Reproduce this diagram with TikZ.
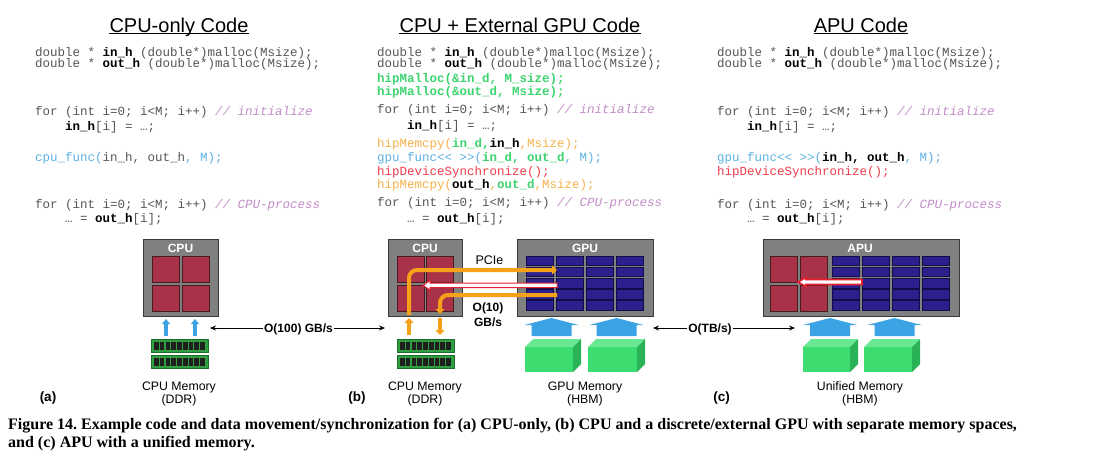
\documentclass[tikz,border=0pt]{standalone}
\usepackage{fontspec}
\setmainfont{Liberation Sans}
\newfontfamily\codefont{Liberation Mono}
\newfontfamily\capfont{Liberation Serif}
\usetikzlibrary{arrows.meta}
\definecolor{codegray}{HTML}{555555}
\definecolor{cmt}{HTML}{C28CC8}
\definecolor{cblue}{HTML}{5BB1E3}
\definecolor{cgreen}{HTML}{3DD46F}
\definecolor{corange}{HTML}{F6B24A}
\definecolor{cred}{HTML}{EF3B4B}
\definecolor{boxgray}{HTML}{808080}
\definecolor{boxborder}{HTML}{3A3A3A}
\definecolor{corered}{HTML}{A83349}
\definecolor{coreborder}{HTML}{4A1A22}
\definecolor{cellblue}{HTML}{2C1F8E}
\definecolor{cellborder}{HTML}{120C48}
\definecolor{blueA}{HTML}{3BA3E3}
\definecolor{orangeA}{HTML}{F7A11A}
\definecolor{redA}{HTML}{E8202E}
\definecolor{cubefront}{HTML}{3DDC71}
\definecolor{cubetop}{HTML}{68E890}
\definecolor{cubeside}{HTML}{2AB257}
\definecolor{dimmgreen}{HTML}{2E9E40}
\definecolor{dimmborder}{HTML}{1E6E2A}
\newcommand\kB[1]{{\bfseries\color{black}#1}}
\newcommand\kC[1]{{\itshape\color{cmt}#1}}
\newcommand\kBl[1]{{\color{cblue}#1}}
\newcommand\kG[1]{{\bfseries\color{cgreen}#1}}
\newcommand\kO[1]{{\color{corange}#1}}
\newcommand\kR[1]{{\color{cred}#1}}
\newcommand\hbmcube[2]{%
  \fill[cubefront] (#1,347) rectangle (#2,372);
  \fill[cubetop] (#1,347) -- ({#1+8},339) -- ({#2+8},339) -- (#2,347) -- cycle;
  \fill[cubeside] (#2,347) -- ({#2+8},339) -- ({#2+8},364) -- (#2,372) -- cycle;}
\newcommand\blockup[1]{%
  \fill[blueA] ({#1-27},325) -- (#1,318) -- ({#1+27},325) -- ({#1+20},325) -- ({#1+20},336) -- ({#1-20},336) -- ({#1-20},325) -- cycle;}
\newcommand\dimmbar[3]{%
  \draw[fill=dimmgreen, draw=dimmborder, line width=0.8pt] (#1,#3) rectangle (#2,{#3+13});
  \foreach \i in {0,...,8} \fill[black!88] ({#1+3+\i*(#2-#1-5)/9},{#3+2.5}) rectangle +({(#2-#1-5)/9-1.1},8);}
\tikzset{
  code/.style={anchor=base west, inner sep=0, text=codegray, font=\codefont\fontsize{12.5}{14}\selectfont\frenchspacing},
  ttl/.style={anchor=base, inner sep=0, font=\fontsize{20}{24}\selectfont},
  chipbox/.style={draw=boxborder, fill=boxgray, line width=1pt, inner sep=0},
  core/.style={draw=coreborder, fill=corered, line width=0.8pt},
  cell/.style={draw=cellborder, fill=cellblue, line width=0.7pt},
  chiplbl/.style={text=white, font=\bfseries\fontsize{12}{12}\selectfont, inner sep=0},
  memlbl/.style={font=\fontsize{12.3}{13}\selectfont, align=center, inner sep=0},
  panel/.style={font=\bfseries\fontsize{13.5}{14}\selectfont, inner sep=0},
  bw/.style={font=\bfseries\fontsize{12}{13}\selectfont, fill=white, inner sep=1.5pt},
  plain/.style={font=\fontsize{12.5}{13}\selectfont, inner sep=0},
  bus/.style={line width=0.7pt, {Stealth[length=6pt,width=5pt]}-{Stealth[length=6pt,width=5pt]}},
  oline/.style={draw=orangeA, line width=4pt, rounded corners=8pt, -{Triangle[width=9pt,length=5pt]}},
  barrow/.style={draw=blueA, line width=3.5pt, -{Triangle[width=8pt,length=5pt]}},
  capt/.style={anchor=base west, inner sep=0, font=\capfont\bfseries\fontsize{16}{18}\selectfont\frenchspacing},
}
\begin{document}
\begin{tikzpicture}[x=1pt,y=-1pt]
\useasboundingbox[fill=white] (0,0) rectangle (1093,453);

% ---------- titles ----------
\node[ttl] (t1) at (179,32) {CPU-only Code};
\node[ttl] (t2) at (520,32) {CPU + External GPU Code};
\node[ttl] (t3) at (861,32) {APU Code};
\foreach \t in {t1,t2,t3}
  \draw[line width=1.2pt] ([yshift=-1.8pt]\t.base west) -- ([yshift=-1.8pt]\t.base east);

% ---------- left code ----------
\node[code] (a1) at (35,56) {double * \kB{in\_h} (double*)malloc(Msize);};
\node[code] (a2) at (35,67) {double * \kB{out\_h} (double*)malloc(Msize);};
\node[code] (a3) at (35,115) {for (int i=0; i<M; i++) \kC{// initialize}};
\node[code] (a4) at (65,130) {\kB{in\_h}[i] = …;};
\node[code] (a5) at (35,161) {\kBl{cpu\_func(}in\_h, out\_h\kBl{, M);}};
\node[code] (a6) at (35,208) {for (int i=0; i<M; i++) \kC{// CPU-process}};
\node[code] (a7) at (65,222) {… = \kB{out\_h}[i];};

% ---------- middle code ----------
\node[code] (b1) at (377,56) {double * \kB{in\_h} (double*)malloc(Msize);};
\node[code] (b2) at (377,67) {double * \kB{out\_h} (double*)malloc(Msize);};
\node[code] (b3) at (377,82) {\kG{hipMalloc(\&in\_d, M\_size);}};
\node[code] (b4) at (377,95) {\kG{hipMalloc(\&out\_d, Msize);}};
\node[code] (b5) at (377,113) {for (int i=0; i<M; i++) \kC{// initialize}};
\node[code] (b6) at (407,129) {\kB{in\_h}[i] = …;};
\node[code] (b7) at (377,147) {\kO{hipMemcpy(}\kG{in\_d,}\kB{in\_h}\kO{,Msize);}};
\node[code] (b8) at (377,161) {\kBl{gpu\_func<{}< >{}>(}\kG{in\_d, out\_d}\kBl{, M);}};
\node[code] (b9) at (377,175) {\kR{hipDeviceSynchronize();}};
\node[code] (b10) at (377,188) {\kO{hipMemcpy(}\kB{out\_h}\kO{,}\kG{out\_d}\kO{,Msize);}};
\node[code] (b11) at (377,206) {for (int i=0; i<M; i++) \kC{// CPU-process}};
\node[code] (b12) at (407,222) {… = \kB{out\_h}[i];};

% ---------- right code ----------
\node[code] (c1) at (717,56) {double * \kB{in\_h} (double*)malloc(Msize);};
\node[code] (c2) at (717,67) {double * \kB{out\_h} (double*)malloc(Msize);};
\node[code] (c3) at (717,115) {for (int i=0; i<M; i++) \kC{// initialize}};
\node[code] (c4) at (747,130) {\kB{in\_h}[i] = …;};
\node[code] (c5) at (717,161) {\kBl{gpu\_func<{}< >{}>(}\kB{in\_h, out\_h}\kBl{, M);}};
\node[code] (c6) at (717,175) {\kR{hipDeviceSynchronize();}};
\node[code] (c7) at (717,208) {for (int i=0; i<M; i++) \kC{// CPU-process}};
\node[code] (c8) at (747,222) {… = \kB{out\_h}[i];};

% ---------- (a) CPU only ----------
\node[chipbox, minimum width=75pt, minimum height=77pt] (cpuA) at (180.5,277.5) {};
\node[chiplbl] (cpuAl) at (180.5,248) {CPU};
\foreach \x in {152,182} \foreach \y in {256,285} \draw[core] (\x,\y) rectangle +(27,26);
\coordinate (baA1) at (166,336); \coordinate (baA1e) at (166,319);
\coordinate (baA2) at (195,336); \coordinate (baA2e) at (195,319);
\draw[barrow] (baA1) -- (baA1e);
\draw[barrow] (baA2) -- (baA2e);
\dimmbar{151}{208}{339}
\dimmbar{151}{208}{355}
\node[memlbl] (memA) at (179,393.5) {CPU Memory\\(DDR)};
\node[panel] (pa) at (48,398) {(a)};

% bus O(100) GB/s
\coordinate (busAl) at (210,328); \coordinate (busAr) at (385,328);
\draw[bus] (busAl) -- (busAr);
\node[bw] (busAt) at (298.5,329) {O(100) GB/s};

% ---------- (b) CPU + GPU ----------
\node[chipbox, minimum width=74pt, minimum height=77pt] (cpuB) at (425,277.5) {};
\node[chiplbl] (cpuBl) at (425,248) {CPU};
\foreach \x in {397,426} \foreach \y in {256,285} \draw[core] (\x,\y) rectangle +(27,26);

\node[chipbox, minimum width=136pt, minimum height=77pt] (gpuB) at (585,277.5) {};
\node[chiplbl] (gpuBl) at (585,248) {GPU};
\foreach \x in {526,556,586,616} \foreach \rr in {0,...,4}
  \draw[cell] (\x,{256+\rr*11.2}) rectangle +(27,9.5);

% PCIe transfers
\coordinate (o1s) at (409,315); \coordinate (o1e) at (557,270);
\draw[oline] (o1s) |- (o1e);
\coordinate (o2s) at (557,295); \coordinate (o2e) at (440,314);
\draw[oline] (o2s) -| (o2e);
\draw[redA, fill=white, line width=1pt] (557,283) -- (430,283) -- (430,280.5) -- (423,285.5) -- (430,290) -- (430,287.5) -- (557,287.5) -- cycle;
\node[plain] (pcie) at (489.5,260) {PCIe};
\node[font=\bfseries\fontsize{12}{15}\selectfont, align=center, inner sep=0] (o10) at (488,314.5) {O(10)\\GB/s};

\coordinate (obA1) at (409,335); \coordinate (obA1e) at (409,318);
\coordinate (obA2) at (440,318); \coordinate (obA2e) at (440,335);
\draw[oline] (obA1) -- (obA1e);
\draw[oline] (obA2) -- (obA2e);
\dimmbar{397}{454}{339}
\dimmbar{397}{454}{355}
\node[memlbl] (memB) at (425,393.5) {CPU Memory\\(DDR)};

\blockup{551.5}
\blockup{616.5}
\hbmcube{525}{573}
\hbmcube{588}{637}
\node[memlbl] (memG) at (585,393.5) {GPU Memory\\(HBM)};
\node[panel] (pb) at (357,398) {(b)};

% bus O(TB/s)
\coordinate (busBl) at (653,328); \coordinate (busBr) at (795,328);
\draw[bus] (busBl) -- (busBr);
\node[bw] (busBt) at (710,329) {O(TB/s)};

% ---------- (c) APU ----------
\node[chipbox, minimum width=196pt, minimum height=77pt] (apu) at (861,277.5) {};
\node[chiplbl] (apul) at (860,248) {APU};
\foreach \x in {770,800} \foreach \y in {256,285} \draw[core] (\x,\y) rectangle +(27,26);
\foreach \x in {832,862,892,922} \foreach \rr in {0,...,4}
  \draw[cell] (\x,{256+\rr*11.2}) rectangle +(27.5,9.5);
\draw[redA, fill=white, line width=1.6pt] (862,279.5) -- (806,279.5) -- (806,277.5) -- (798,282) -- (806,286.5) -- (806,284.5) -- (862,284.5) -- cycle;

\blockup{830}
\blockup{894.5}
\hbmcube{803}{850}
\hbmcube{864}{912}
\node[memlbl] (memU) at (860,393.5) {Unified Memory\\(HBM)};
\node[panel] (pc) at (721.5,398) {(c)};

% ---------- caption ----------
\node[capt] (cap1) at (8,429) {Figure 14. Example code and data movement/synchronization for (a) CPU-only, (b) CPU and a discrete/external GPU with separate memory spaces,};
\node[capt] (cap2) at (8,447) {and (c) APU with a unified memory.};
\end{tikzpicture}
\end{document}
